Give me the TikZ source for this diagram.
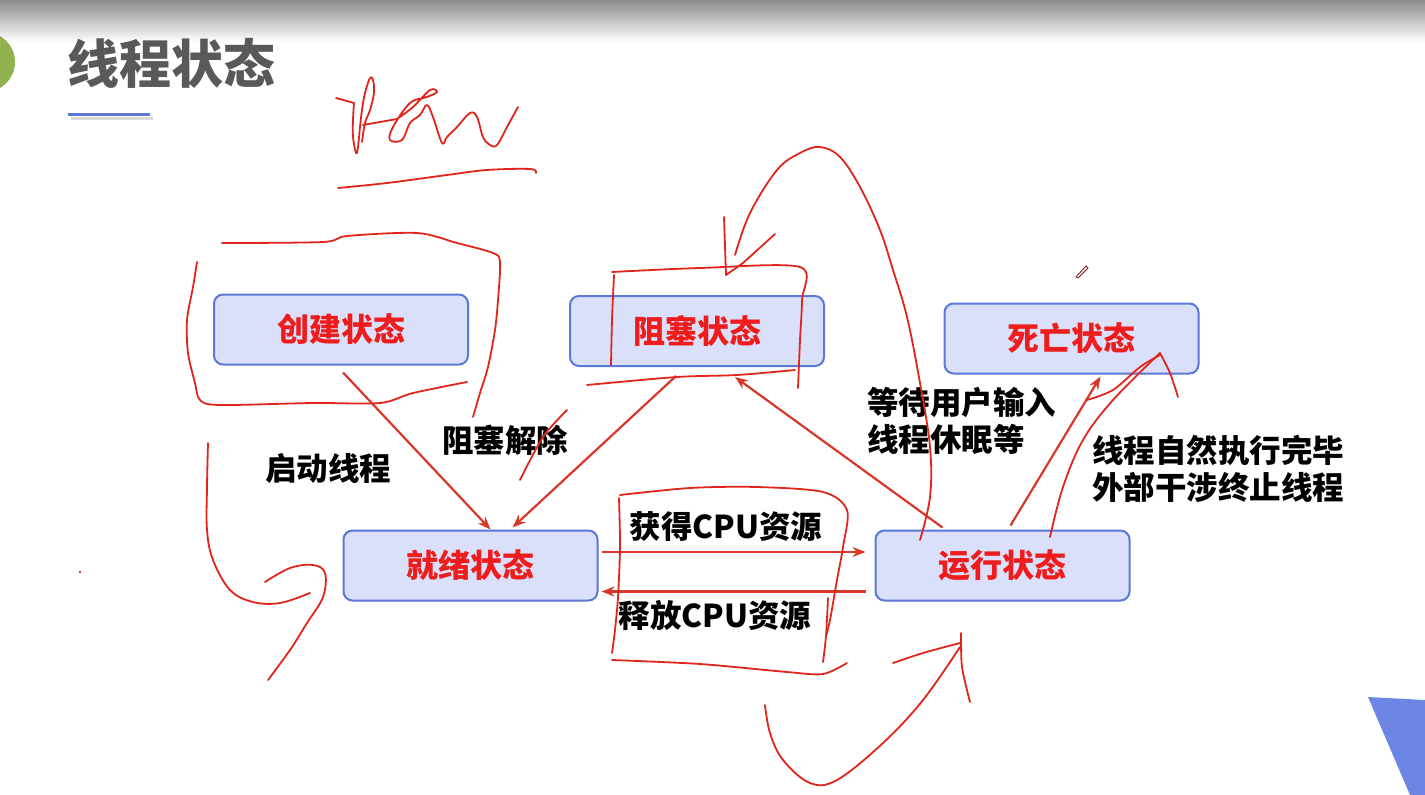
\documentclass[tikz,border=0pt]{standalone}
\usepackage{fontspec}
\setmainfont{Noto Sans CJK SC}
\usetikzlibrary{arrows.meta}

\definecolor{boxfill}{HTML}{DAE0F9}
\definecolor{boxline}{HTML}{5B78D6}
\definecolor{nodered}{HTML}{EE1C1C}
\definecolor{arrred}{HTML}{D8382A}
\definecolor{inkred}{HTML}{E0261C}
\definecolor{titlegray}{HTML}{595959}
\definecolor{tri}{HTML}{6D86E6}
\definecolor{dotgreen}{HTML}{8FB24E}

\begin{document}
\begin{tikzpicture}[x=1pt,y=-1pt,
  state/.style={draw=boxline,line width=2pt,fill=boxfill,rounded corners=9pt,
    minimum width=254pt,minimum height=70pt,text=nodered,
    font=\fontsize{32}{38}\selectfont\bfseries,inner sep=0pt},
  lbl/.style={font=\fontsize{31.5}{37}\selectfont\bfseries,text=black,inner sep=0pt,align=left},
  arr/.style={draw=arrred,line width=2.2pt,-{Stealth[length=13pt,width=10pt]}},
  ink/.style={draw=inkred,line width=1.8pt,line cap=round,line join=round}]

\useasboundingbox (0,0) rectangle (1425,795);
\clip (0,0) rectangle (1425,795);
\fill[white] (0,0) rectangle (1425,795);
\shade[top color=black!45,bottom color=white] (0,0) rectangle (1425,42);

% header
\fill[dotgreen] (-15,62) circle (30pt);
\node[font=\fontsize{52}{60}\selectfont\bfseries,text=titlegray,inner sep=0pt] (title) at (171,63) {线程状态};
\draw[black!15,line width=3pt] (71,118) -- (153,118);
\draw[boxline,line width=3pt] (68,114) -- (150,114);

% states
\node[state] (create) at (341,329.5) {创建状态};
\node[state] (block)  at (697,331) {阻塞状态};
\node[state] (dead)   at (1071.5,338.5) {死亡状态};
\node[state] (ready)  at (470.5,565.5) {就绪状态};
\node[state] (run)    at (1002.5,565.5) {运行状态};

% arrows
\draw[arr] ([xshift=2pt,yshift=-7pt]create.south) -- ([xshift=20pt]ready.north);
\draw[arr] ([xshift=-21pt,yshift=-9pt]block.south) -- ([xshift=42pt,yshift=2pt]ready.north);
\draw[arr] ([xshift=-60pt,yshift=2pt]run.north) -- ([xshift=38pt,yshift=-10pt]block.south);
\draw[arr] ([xshift=8pt,yshift=4pt]run.north) -- ([xshift=29pt,yshift=-2pt]dead.south);
\draw[arr] ([xshift=3pt,yshift=13.5pt]ready.east) -- ([xshift=-9pt,yshift=13.5pt]run.west);
\draw[arr] ([xshift=-9pt,yshift=-26pt]run.west) -- ([xshift=3pt,yshift=-26pt]ready.east);

% labels
\node[lbl] (l1) at (328,469) {启动线程};
\node[lbl] (l2) at (505,440) {阻塞解除};
\node[lbl,anchor=west] (l3) at (867,421) {等待用户输入\\线程休眠等};
\node[lbl,anchor=west] (l4) at (1092,469) {线程自然执行完毕\\外部干涉终止线程};
\node[lbl] (l5) at (726,527) {获得CPU资源};
\node[lbl] (l6) at (715,615) {释放CPU资源};

% blue corner triangle
\fill[tri] (1368,697) -- (1425,700) -- (1425,795) -- (1410,795) -- cycle;

% ---- handwritten red annotations ----
% "Pew" scribble
\draw[ink] (336,98) -- (354,103);
\draw[ink] plot[smooth,tension=0.6] coordinates {(354,103) (353,120) (353,137) (356,153) (358,147) (360,127) (362,110) (365,93) (370,78) (373,80) (374,93) (370,110) (365,123) (362,142)};
\draw[ink] (363,125) -- (397,119);
\draw[ink] plot[smooth,tension=0.6] coordinates {(397,119) (413,107) (430,90) (437,92) (427,97) (410,103) (393,127) (390,140) (402,140) (410,123) (420,115) (427,105) (433,117) (442,143) (447,137) (457,127) (470,113) (477,117) (483,137) (490,145) (497,145) (507,127) (518,107)};
\draw[ink] plot[smooth,tension=0.6] coordinates {(338,188) (387,183) (447,175) (487,170) (530,169) (536,173)};

% box around create
\draw[ink] plot[smooth,tension=0.5] coordinates {(222,243) (323,242) (347,236) (417,233) (457,243) (493,253) (500,262) (498,300) (495,330) (488,367) (480,393) (473,417)};
\draw[ink] plot[smooth,tension=0.5] coordinates {(197,262) (193,287) (187,320) (188,353) (195,383) (200,400) (220,405) (313,403) (380,403) (413,393) (467,382)};

% left hook
\draw[ink] plot[smooth,tension=0.6] coordinates {(208,443) (207,487) (207,530) (213,560) (230,590) (253,602) (280,603) (310,593)};
\draw[ink] plot[smooth,tension=0.6] coordinates {(265,582) (290,568) (313,565) (325,573) (323,597) (307,623) (290,650) (268,680)};

% stroke across label
\draw[ink] plot[smooth] coordinates {(567,410) (543,437) (520,480)};

% box around block
\draw[ink] plot[smooth,tension=0.5] coordinates {(614,275) (612,320) (611,365)};
\draw[ink] plot[smooth,tension=0.5] coordinates {(612,272) (700,268) (800,267) (802,300) (800,340) (798,388)};
\draw[ink] plot[smooth,tension=0.5] coordinates {(587,385) (677,377) (737,375) (795,370)};
% loop above block
\draw[ink] (724,217) -- (726,275) -- (743,263) -- (775,234);
\draw[ink] plot[smooth,tension=0.6] coordinates {(735,255) (750,213) (777,170) (800,153) (820,147) (840,157) (860,187) (880,230) (893,270) (907,317) (920,383) (930,447) (930,497) (920,540)};

% box around CPU labels
\draw[ink] plot[smooth,tension=0.5] coordinates {(620,495) (690,488) (757,487) (823,492) (847,510) (843,547) (837,580) (830,620) (826,636)};
\draw[ink] plot[smooth,tension=0.5] coordinates {(828,598) (826,636) (823,662)};
\draw[ink] plot[smooth,tension=0.5] coordinates {(619,498) (620,547) (618,597) (615,630) (612,653)};
\draw[ink] plot[smooth,tension=0.5] coordinates {(612,660) (700,664) (787,672) (823,674) (847,663)};

% bottom loop
\draw[ink] plot[smooth,tension=0.6] coordinates {(765,705) (770,733) (783,760) (810,783) (837,780) (883,743) (923,700) (960,647)};
\draw[ink] plot[smooth,tension=0.5] coordinates {(893,663) (923,653) (960,643)};
\draw[ink] plot[smooth,tension=0.5] coordinates {(961,633) (962,667) (970,702)};

% scribbles near dead
\draw[ink] plot[smooth,tension=0.6] coordinates {(1050,537) (1063,487) (1083,440) (1113,400) (1160,353)};
\draw[ink] plot[smooth,tension=0.5] coordinates {(1160,353) (1170,373) (1178,397)};
\draw[ink] plot[smooth,tension=0.5] coordinates {(1087,400) (1113,390) (1140,367) (1160,355)};

% pen cursor and dot
\draw[inkred!60!black,line width=0.8pt] (1076,277) -- (1086,266) -- (1088,268) -- (1078,278) -- cycle;
\fill[inkred!60!black] (80,572) circle (1.2pt);
\end{tikzpicture}
\end{document}
